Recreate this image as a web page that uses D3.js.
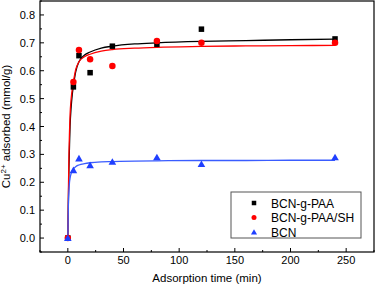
<!DOCTYPE html>
<html><head><meta charset="utf-8">
<script src="https://cdn.jsdelivr.net/npm/d3@7"></script>
<style>body{margin:0;background:#fff}svg{display:block}text{font-family:"Liberation Sans",Arial,sans-serif}</style>
</head><body><svg id="c" width="378" height="287"></svg>
<script>
const seriesNames = ["BCN-g-PAA", "BCN-g-PAA/SH", "BCN"];
const seriesColors = ["#000000", "#ff0000", "#1f3fff"];
const lineColors = ["#000000", "#ff0000", "#3a5cff"];
const times = [0, 5, 10, 20, 40, 80, 120, 240];
const pointsPAA = [0, 0.542, 0.654, 0.593, 0.688, 0.695, 0.749, 0.714];
const pointsSH = [0, 0.560, 0.674, 0.641, 0.617, 0.707, 0.700, 0.700];
const pointsBCN = [0, 0.243, 0.285, 0.261, 0.273, 0.289, 0.265, 0.289];
const fitTimes = [0, 0.5, 1, 1.5, 2, 3, 4, 5, 7, 10, 15, 20, 30, 40, 60, 80, 120, 160, 200, 240];
const fitPAA = [0, 0.13, 0.25, 0.33, 0.40, 0.47, 0.515, 0.545, 0.595, 0.632, 0.656, 0.667, 0.681, 0.688, 0.696, 0.700, 0.705, 0.708, 0.711, 0.713];
const fitSH = [0, 0.16, 0.30, 0.38, 0.44, 0.50, 0.535, 0.560, 0.603, 0.632, 0.650, 0.659, 0.670, 0.676, 0.681, 0.684, 0.687, 0.689, 0.690, 0.691];
const fitBCN = [0, 0.12, 0.17, 0.20, 0.215, 0.232, 0.242, 0.248, 0.256, 0.262, 0.267, 0.270, 0.273, 0.274, 0.276, 0.277, 0.278, 0.278, 0.279, 0.279];
const xTicks = [0, 50, 100, 150, 200, 250];
const yTicks = [0.0, 0.1, 0.2, 0.3, 0.4, 0.5, 0.6, 0.7, 0.8];
const xLabel = "Adsorption time (min)";

const svg = d3.select("#c");
const L = 40, R = 374, T = 1, B = 252;
const x = d3.scaleLinear().domain([-25, 275]).range([L, R]);
const y = d3.scaleLinear().domain([-0.05, 0.85]).range([B, T]);

// curves
const fits = [fitPAA, fitSH, fitBCN];
const line = d3.line().x(d => x(d[0])).y(d => y(d[1])).curve(d3.curveMonotoneX);
fits.forEach((f, i) => {
  svg.append("path").datum(fitTimes.map((t, j) => [t, f[j]]))
    .attr("d", line).attr("fill", "none").attr("stroke", lineColors[i]).attr("stroke-width", 1.3);
});

// markers
function marker(g, type, cx, cy, color, s) {
  if (type === 0) g.append("rect").attr("x", cx - s / 2).attr("y", cy - s / 2).attr("width", s).attr("height", s).attr("fill", color);
  else if (type === 1) g.append("circle").attr("cx", cx).attr("cy", cy).attr("r", s / 2).attr("fill", color);
  else g.append("path").attr("d", d3.symbol(d3.symbolTriangle, s * s * 0.45)()).attr("transform", `translate(${cx},${cy + 0.7})`).attr("fill", color);
}
const pts = [pointsPAA, pointsSH, pointsBCN];
const mg = svg.append("g");
pts.forEach((p, i) => {
  times.forEach((t, j) => marker(mg, i, x(t), y(p[j]), seriesColors[i], i === 0 ? 5.5 : (i === 1 ? 6.5 : 7.5)));
});

// frame
svg.append("rect").attr("x", L).attr("y", T).attr("width", R - L).attr("height", B - T)
  .attr("fill", "none").attr("stroke", "#000").attr("stroke-width", 1.2);

// x axis ticks
const ax = svg.append("g");
d3.range(-25, 276, 25).forEach(v => {
  const major = v % 50 === 0;
  ax.append("line").attr("x1", x(v)).attr("x2", x(v)).attr("y1", B).attr("y2", B - (major ? 4 : 2)).attr("stroke", "#000");
});
xTicks.forEach(v => ax.append("text").attr("x", x(v)).attr("y", 264).attr("text-anchor", "middle").attr("font-size", 11).text(v));
d3.range(-0.05, 0.851, 0.05).forEach(v => {
  const major = Math.abs(Math.round(v * 10) - v * 10) < 1e-6;
  ax.append("line").attr("x1", L).attr("x2", L + (major ? 4 : 2)).attr("y1", y(v)).attr("y2", y(v)).attr("stroke", "#000");
});
yTicks.forEach(v => ax.append("text").attr("x", 35).attr("y", y(v) + 4).attr("text-anchor", "end").attr("font-size", 11).text(v.toFixed(1)));

svg.append("text").attr("x", (L + R) / 2).attr("y", 282).attr("text-anchor", "middle").attr("font-size", 11.5).text(xLabel);
const yt = svg.append("text").attr("transform", `translate(10,${(T + B) / 2}) rotate(-90)`).attr("text-anchor", "middle").attr("font-size", 11.5);
yt.append("tspan").text("Cu");
yt.append("tspan").attr("dy", -4).attr("font-size", 8).text("2+");
yt.append("tspan").attr("dy", 4).text(" adsorbed (mmol/g)");

// legend
const lg = svg.append("g");
lg.append("rect").attr("x", 231).attr("y", 192).attr("width", 130).attr("height", 46).attr("fill", "#fff").attr("stroke", "#555").attr("stroke-width", 1);
seriesNames.forEach((n, i) => {
  const cy = 203 + i * 14.5;
  marker(lg, i, 254, cy, seriesColors[i], i === 0 ? 4.5 : (i === 1 ? 5 : 6));
  lg.append("text").attr("x", 271).attr("y", cy + 4.5).attr("font-size", 12).text(n);
});
</script></body></html>
